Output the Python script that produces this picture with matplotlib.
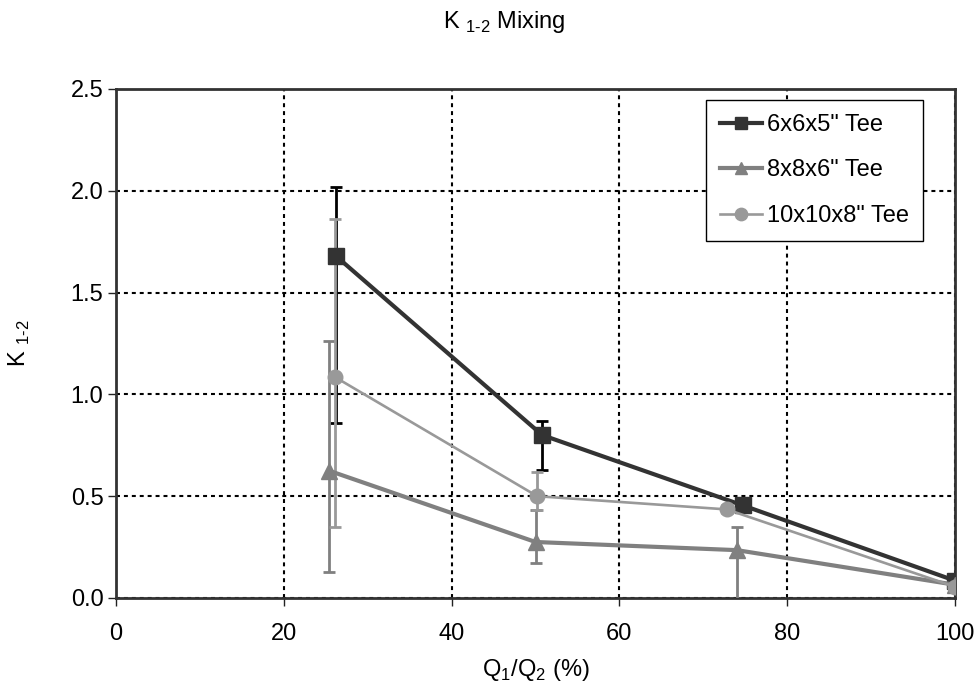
import numpy as np
import matplotlib.pyplot as plt

plt.rcParams['font.family'] = ['Liberation Sans', 'DejaVu Sans']
plt.rcParams['mathtext.fontset'] = 'custom'
plt.rcParams['mathtext.rm'] = 'Liberation Sans'

# flow ratio Q1/Q2 (%) and loss coefficient K1-2 for each tee
tee6_x = [26.2, 50.8, 74.7, 100.0]
tee6_k = [1.68, 0.80, 0.455, 0.085]
tee6_lo = [0.82, 0.17, 0.02, 0.0]
tee6_hi = [0.34, 0.07, 0.02, 0.0]

tee8_x = [25.4, 50.0, 74.0, 100.0]
tee8_k = [0.625, 0.275, 0.235, 0.065]
tee8_lo = [0.495, 0.105, 0.30, 0.0]
tee8_hi = [0.635, 0.155, 0.115, 0.0]

tee10_x = [26.1, 50.2, 72.8, 100.0]
tee10_k = [1.085, 0.50, 0.435, 0.055]
tee10_lo = [0.735, 0.07, 0.02, 0.0]
tee10_hi = [0.775, 0.12, 0.02, 0.0]

labels = ['6x6x5" Tee', '8x8x6" Tee', '10x10x8" Tee']

FS = 17

fig = plt.figure(figsize=(9.78, 6.86), dpi=100)
ax = fig.add_axes([0.1186, 0.1283, 0.8579, 0.742])

series = [
    (tee6_x, tee6_k, tee6_lo, tee6_hi, '#333333', 'black', 's', 3.0, 11),
    (tee8_x, tee8_k, tee8_lo, tee8_hi, '#808080', '#808080', '^', 3.0, 11),
    (tee10_x, tee10_k, tee10_lo, tee10_hi, '#999999', '#999999', 'o', 1.9, 10.5),
]
for (x, k, lo, hi, col, ecol, mk, lw, ms), lab in zip(series, labels):
    ax.errorbar(x, k, yerr=[lo, hi], fmt='none', ecolor=ecol,
                elinewidth=2, capsize=4.5, capthick=2, zorder=3)
    ax.plot(x, k, color=col, marker=mk, lw=lw, ms=ms, label=lab, zorder=4)

ax.set_xlim(0, 100)
ax.set_ylim(0, 2.5)
ax.set_xticks(np.arange(0, 101, 20))
ax.set_yticks(np.arange(0, 2.51, 0.5))
ax.set_yticklabels(['%.1f' % v for v in np.arange(0, 2.51, 0.5)])
ax.grid(True, color='black', linestyle=(0, (1.9, 1.9)), linewidth=1.5, zorder=0)
ax.tick_params(direction='out', length=6, width=1, labelsize=FS,
               colors='#222222', labelcolor='black')
ax.tick_params(axis='y', pad=3)
ax.tick_params(axis='x', pad=12)
for sp in ax.spines.values():
    sp.set_color('#333333')
    sp.set_linewidth(2)

ax.set_xlabel(r'Q$_{\mathregular{1}}$/Q$_{\mathregular{2}}$ (%)', fontsize=FS, labelpad=9)
ax.set_ylabel(r'K $_{\mathregular{1\text{-}2}}$', fontsize=FS, labelpad=28)
fig.text(0.516, 0.959, r'K $_{\mathregular{1\text{-}2}}$ Mixing', fontsize=FS,
         ha='center', va='baseline')

leg = ax.legend(loc='upper right', bbox_to_anchor=(0.962, 0.979), fontsize=FS,
                fancybox=False, framealpha=1, edgecolor='black',
                handlelength=1.8, handletextpad=0.2, labelspacing=1.0,
                borderpad=0.6, borderaxespad=0, markerscale=0.85)
leg.get_frame().set_linewidth(1)

fig.savefig('out.png', dpi=100)
